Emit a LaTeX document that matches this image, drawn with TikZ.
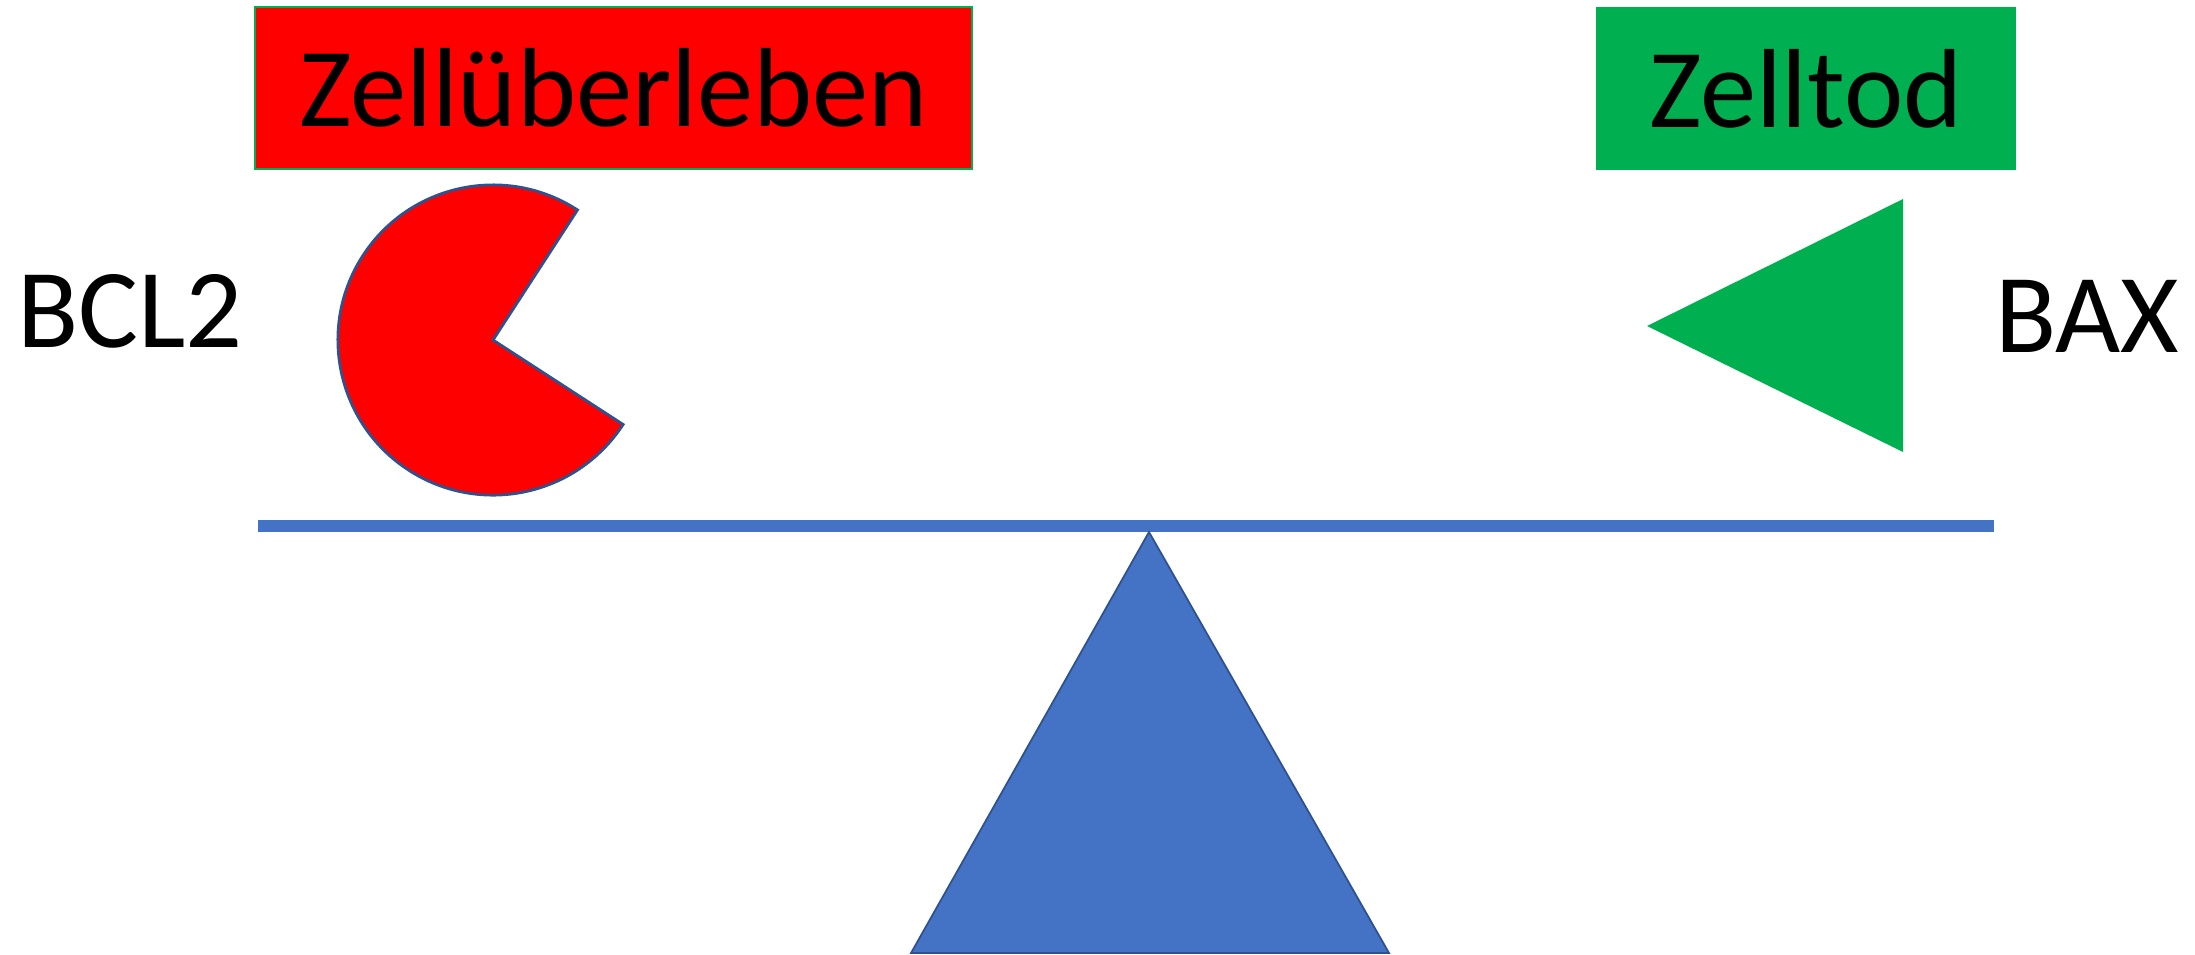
\documentclass[tikz,border=0pt]{standalone}
\usepackage{fontspec}
\setmainfont{Carlito}
\definecolor{rot}{HTML}{FF0000}
\definecolor{gruen}{HTML}{00B050}
\definecolor{blau}{HTML}{4472C4}
\definecolor{dunkelblau}{HTML}{2F528F}

\begin{document}
\begin{tikzpicture}[x=0.01cm,y=-0.01cm,
  schrift/.style={font=\fontsize{32}{38}\selectfont,inner sep=0pt},
  kasten/.style={schrift,minimum height=1.62cm}]
  \useasboundingbox (0,0) rectangle (2195,954);
  % Kaesten oben
  \node[kasten,fill=rot,draw=gruen,line width=0.5pt,minimum width=7.17cm] (ueberleben) at (613.5,88) {Zellüberleben};
  \node[kasten,fill=gruen,minimum width=4.2cm] (tod) at (1806,88.5) {Zelltod};
  \node[schrift,anchor=base] (bcl) at (130,347) {BCL2};
  \node[schrift,anchor=base] (bax) at (2087,352) {BAX};
  % Pacman BCL2
  \coordinate (M) at (493,340);
  \draw[fill=rot,draw=dunkelblau,line width=0.8pt] (M) -- ++(57:1.55cm)
    arc[start angle=57,end angle=327,radius=1.55cm] -- cycle;
  % Dreieck BAX
  \fill[gruen] (1647,326) -- (1903,199) -- (1903,452) -- cycle;
  % Waage
  \coordinate (links) at (258,526);
  \coordinate (rechts) at (1994,526);
  \coordinate (A) at (1149,532);
  \draw[blau,line width=0.12cm] (links) -- (rechts);
  \draw[fill=blau,draw=dunkelblau,line width=0.5pt] (A) -- (911,953) -- (1389,953) -- cycle;
\end{tikzpicture}
\end{document}
